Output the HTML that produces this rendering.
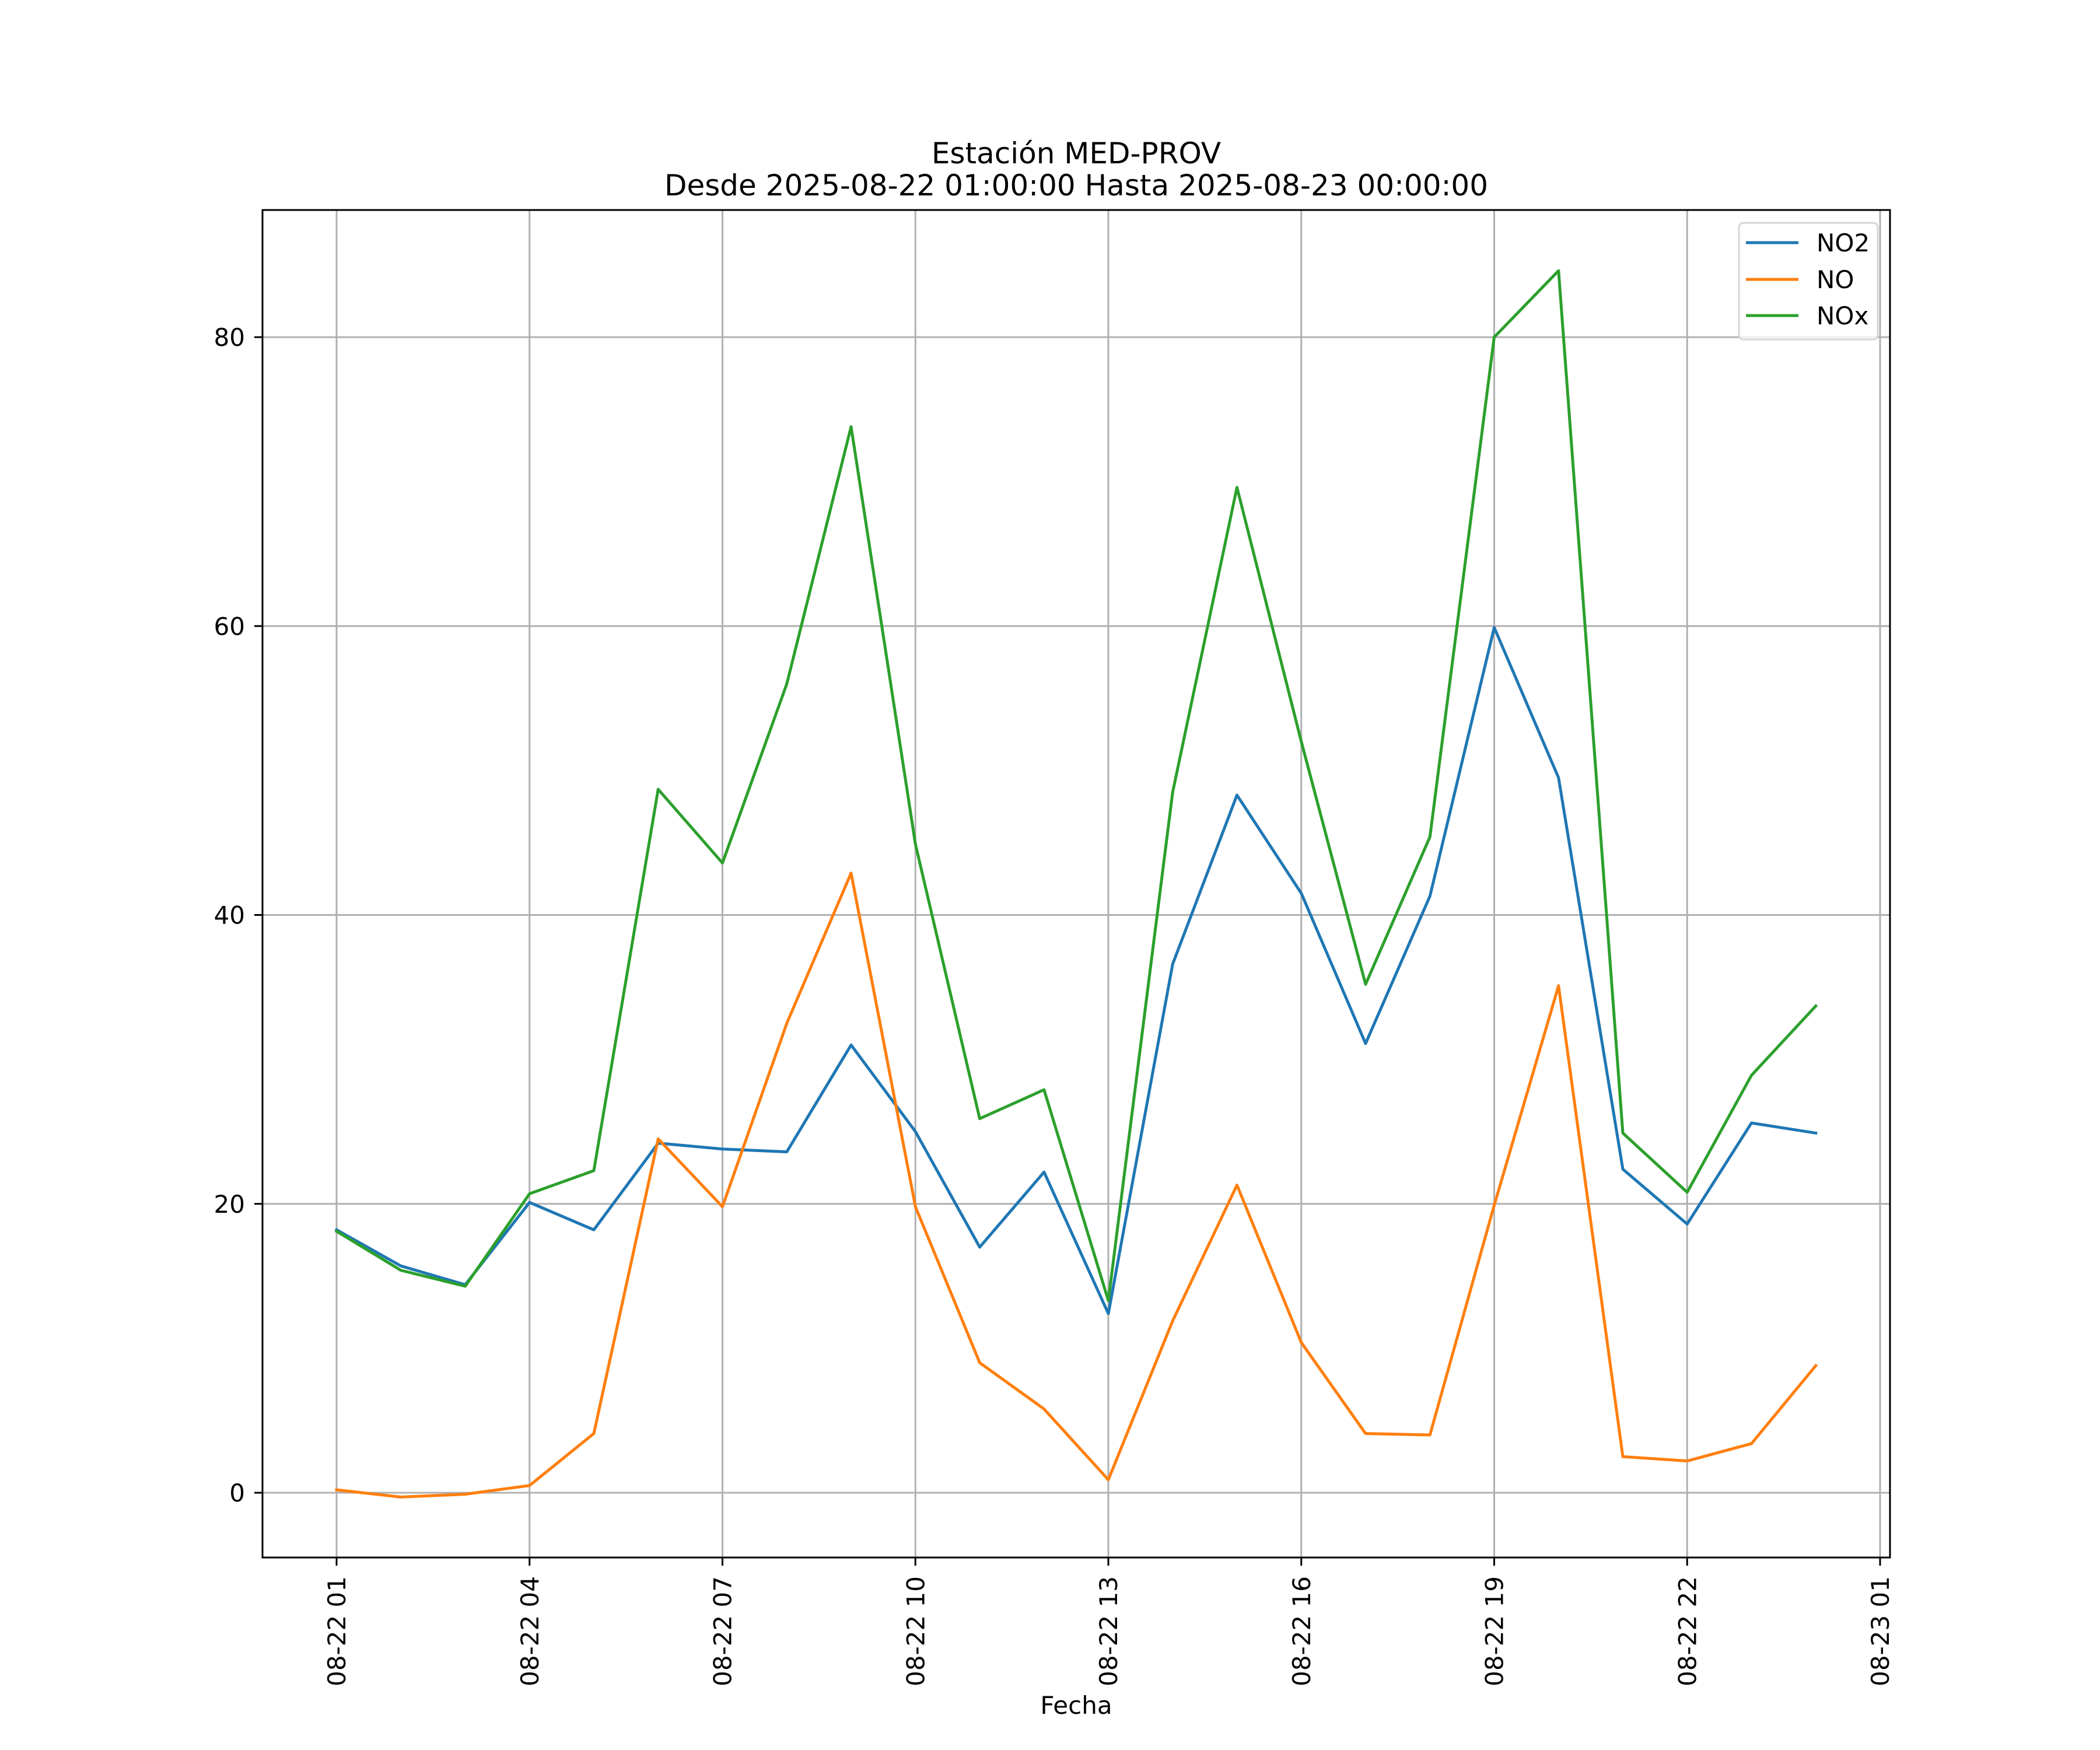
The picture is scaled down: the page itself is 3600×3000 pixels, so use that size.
<!DOCTYPE html>
<html><head><meta charset="utf-8"><style>
html,body{margin:0;padding:0;background:#fff;}
svg{display:block;font-family:"DejaVu Sans","Liberation Sans",sans-serif;}
</style></head><body>
<svg id="chart" width="3600" height="3000" viewBox="0 0 3600 3000" xmlns="http://www.w3.org/2000/svg">
<rect width="3600" height="3000" fill="#fff"/>
<g id="grid"></g>
<g id="series"></g>
<g id="axes"></g>
<text x="1845" y="280" font-size="50" text-anchor="middle">Estación MED-PROV</text>
<text x="1845" y="335" font-size="50" text-anchor="middle">Desde 2025-08-22 01:00:00 Hasta 2025-08-23 00:00:00</text>
<text x="1845" y="2938" font-size="42" text-anchor="middle">Fecha</text>
<g>
<rect x="2981" y="382" width="238" height="200" rx="8" fill="#fff" fill-opacity="0.8" stroke="#d6d6d6" stroke-width="3"/>
<line x1="2993" y1="416" x2="3083" y2="416" stroke="#1f77b4" stroke-width="5"/>
<text x="3114" y="431" font-size="42">NO2</text>
<line x1="2993" y1="479" x2="3083" y2="479" stroke="#ff7f0e" stroke-width="5"/>
<text x="3114" y="494" font-size="42">NO</text>
<line x1="2993" y1="541" x2="3083" y2="541" stroke="#2ca02c" stroke-width="5"/>
<text x="3114" y="556" font-size="42">NOx</text>
</g>
</svg>
<script>
const hours = [0,1,2,3,4,5,6,7,8,9,10,11,12,13,14,15,16,17,18,19,20,21,22,23];
const no2 = [18.2,15.7,14.4,20.1,18.2,24.2,23.8,23.6,31.0,25.0,17.0,22.2,12.4,36.6,48.3,41.5,31.1,41.3,59.9,49.5,22.4,18.6,25.6,24.9];
const no = [0.2,-0.3,-0.1,0.5,4.1,24.5,19.8,32.5,42.9,19.8,9.0,5.8,0.9,11.9,21.3,10.4,4.1,4.0,19.9,35.1,2.5,2.2,3.4,8.8];
const nox = [18.1,15.4,14.3,20.7,22.3,48.7,43.6,56.0,73.8,44.9,25.9,27.9,13.3,48.5,69.6,52.0,35.2,45.4,80.0,84.6,24.9,20.8,28.9,33.7];
const yTicks = [0,20,40,60,80];
const xTickHours = [0,3,6,9,12,15,18,21,24];
const xTickLabels = ["08-22 01","08-22 04","08-22 07","08-22 10","08-22 13","08-22 16","08-22 19","08-22 22","08-23 01"];

const L=450,R=3240,T=360,B=2670;
const NS="http://www.w3.org/2000/svg";
function xs(h){return 577+h*(3223-577)/24;}
function ys(v){return 2559-v*(2559-578)/80;}
function mk(tag,attrs,parent){const e=document.createElementNS(NS,tag);for(const k in attrs)e.setAttribute(k,attrs[k]);parent.appendChild(e);return e;}
const grid=document.getElementById('grid'),axes=document.getElementById('axes'),ser=document.getElementById('series');
yTicks.forEach(v=>{
  const y=ys(v);
  const g=mk('line',{x1:L,x2:R,y1:y,y2:y,stroke:'#b0b0b0','stroke-width':3},grid);
  
  
  mk('line',{x1:L-14,x2:L,y1:y,y2:y,stroke:'#000','stroke-width':3},axes);
  const t=mk('text',{x:L-30,y:y+15,'font-size':42,'text-anchor':'end'},axes);
  
  
  t.textContent=v;
});
xTickHours.forEach((h,i)=>{
  const x=xs(h);
  const g=mk('line',{x1:x,x2:x,y1:T,y2:B,stroke:'#b0b0b0','stroke-width':3},grid);
  
  
  mk('line',{x1:x,x2:x,y1:B,y2:B+14,stroke:'#000','stroke-width':3},axes);
  const t=mk('text',{x:0,y:0,'font-size':42,'text-anchor':'end',transform:`translate(${x+15},2702) rotate(-90)`},axes);
  
  
  t.textContent=xTickLabels[i];
});
const fr=mk('rect',{x:L,y:T,width:R-L,height:B-T,fill:'none',stroke:'#000','stroke-width':3},axes);


[[no2,'#1f77b4','line-no2'],[no,'#ff7f0e','line-no'],[nox,'#2ca02c','line-nox']].forEach(([d,c,n])=>{
  const pts=d.map((v,i)=>xs(hours[i]).toFixed(1)+','+ys(v).toFixed(1)).join(' ');
  const p=mk('polyline',{points:pts,fill:'none',stroke:c,'stroke-width':5,'stroke-linejoin':'round','stroke-linecap':'square'},ser);
  
  
});
</script>
</body></html>
